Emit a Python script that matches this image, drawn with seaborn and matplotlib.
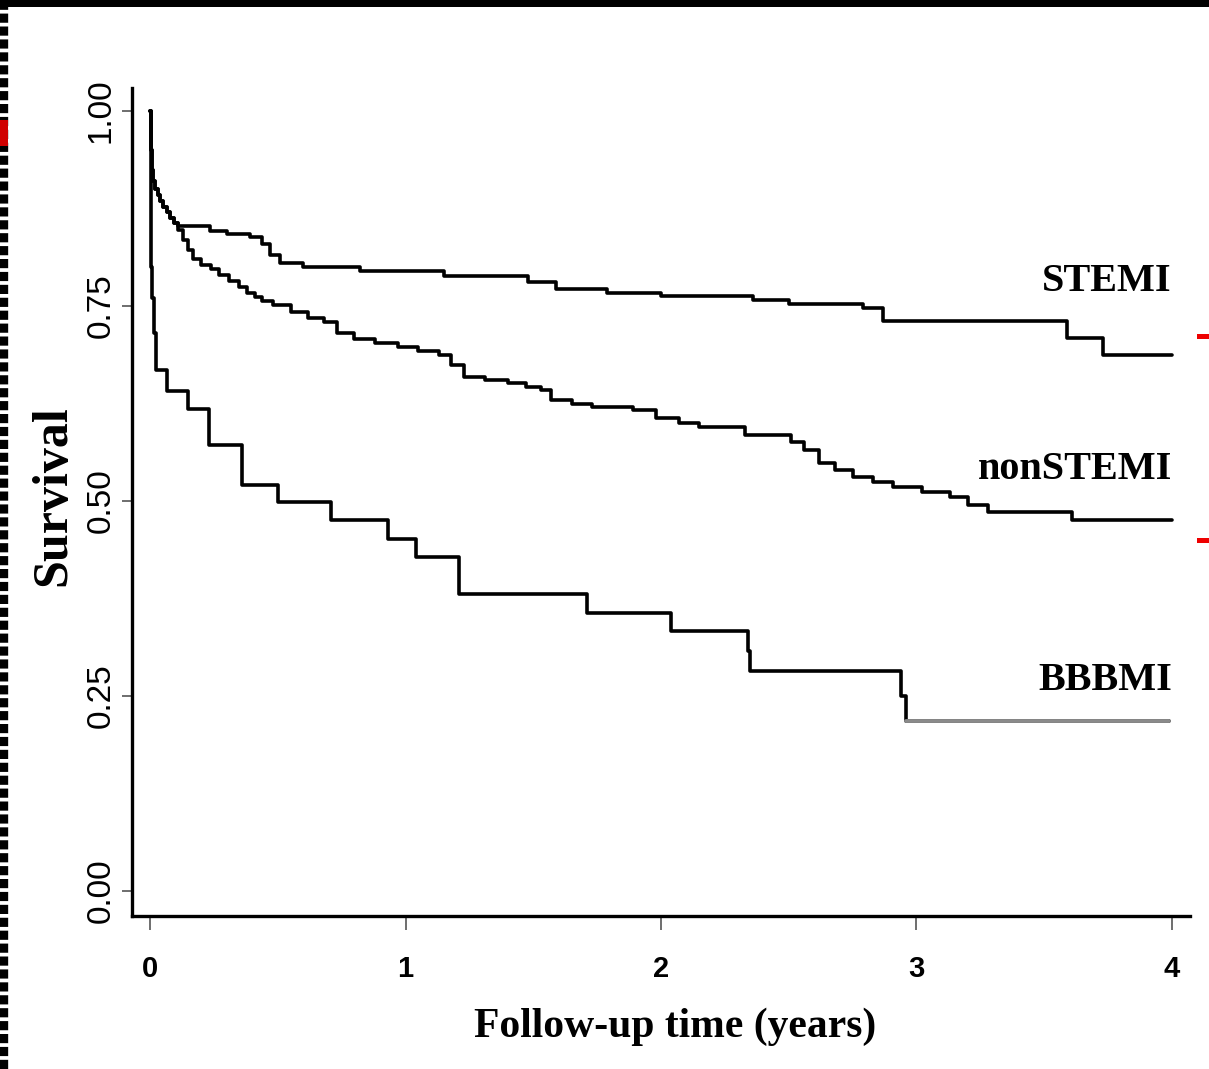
import matplotlib
matplotlib.use("Agg")
import matplotlib.pyplot as plt
import seaborn as sns
import pandas as pd
from matplotlib.lines import Line2D
from matplotlib.patches import Rectangle

# ---------------- data ----------------
stemi_t = [0, 0.002, 0.006, 0.012, 0.02, 0.03, 0.04, 0.05, 0.065, 0.08, 0.095, 0.11,
           0.235, 0.30, 0.39, 0.44, 0.47, 0.51, 0.60, 0.82, 1.15, 1.48, 1.59, 1.79,
           2.0, 2.36, 2.50, 2.79, 2.87, 3.59, 3.73, 4.0]
stemi_s = [1.0, 0.95, 0.925, 0.91, 0.90, 0.892, 0.885, 0.877, 0.87, 0.863, 0.857, 0.852,
           0.846, 0.842, 0.838, 0.83, 0.815, 0.805, 0.80, 0.795, 0.788, 0.781, 0.772, 0.767,
           0.763, 0.758, 0.753, 0.747, 0.731, 0.709, 0.687, 0.687]

nonstemi_t = [0, 0.002, 0.006, 0.012, 0.02, 0.03, 0.04, 0.05, 0.065, 0.08, 0.095, 0.11,
              0.13, 0.15, 0.17, 0.20, 0.24, 0.27, 0.31, 0.35, 0.38, 0.41, 0.44, 0.48,
              0.55, 0.62, 0.68, 0.73, 0.80, 0.88, 0.97, 1.05, 1.13, 1.18, 1.23, 1.31,
              1.40, 1.47, 1.53, 1.57, 1.65, 1.73, 1.89, 1.98, 2.07, 2.15, 2.33, 2.51,
              2.56, 2.62, 2.68, 2.75, 2.83, 2.91, 3.02, 3.13, 3.20, 3.28, 3.61, 4.0]
nonstemi_s = [1.0, 0.95, 0.925, 0.91, 0.90, 0.892, 0.885, 0.877, 0.87, 0.863, 0.857, 0.848,
              0.835, 0.822, 0.81, 0.803, 0.797, 0.79, 0.782, 0.775, 0.767, 0.761, 0.756, 0.751,
              0.742, 0.735, 0.729, 0.715, 0.708, 0.703, 0.697, 0.692, 0.687, 0.675, 0.659, 0.655,
              0.651, 0.646, 0.642, 0.629, 0.624, 0.62, 0.617, 0.606, 0.600, 0.595, 0.585, 0.576,
              0.565, 0.549, 0.54, 0.531, 0.524, 0.518, 0.512, 0.505, 0.495, 0.486, 0.476, 0.476]

bbbmi_t = [0, 0.002, 0.004, 0.008, 0.015, 0.025, 0.066, 0.15, 0.23, 0.36, 0.50, 0.71,
           0.93, 1.04, 1.21, 1.71, 2.04, 2.34, 2.35, 2.94, 2.96, 3.99]
bbbmi_s = [1.0, 0.86, 0.80, 0.76, 0.715, 0.668, 0.641, 0.618, 0.572, 0.521, 0.499, 0.476,
           0.451, 0.428, 0.381, 0.356, 0.333, 0.308, 0.282, 0.25, 0.218, 0.218]

group_names = ["STEMI", "nonSTEMI", "BBBMI"]
label_y = [0.781, 0.54, 0.27]

x_ticks = [0, 1, 2, 3, 4]
x_tick_labels = ["0", "1", "2", "3", "4"]
y_ticks = [0.00, 0.25, 0.50, 0.75, 1.00]
y_tick_labels = ["0.00", "0.25", "0.50", "0.75", "1.00"]

x_label = "Follow-up time (years)"
y_label = "Survival"

# ---------------- plot ----------------
sns.set_theme(style="white")
plt.rcParams["font.family"] = ["Liberation Serif", "DejaVu Serif"]
plt.rcParams["text.color"] = "black"
plt.rcParams["axes.labelcolor"] = "black"
plt.rcParams["xtick.labelcolor"] = "black"
plt.rcParams["ytick.labelcolor"] = "black"

W, H = 1209, 1069
fig = plt.figure(figsize=(W / 100, H / 100), dpi=100)
ax = fig.add_axes([132 / W, 1 - 916 / H, (1190 - 132) / W, (916 - 88) / H])

series = [(stemi_t, stemi_s), (nonstemi_t, nonstemi_s), (bbbmi_t, bbbmi_s)]
for (t, s), name in zip(series, group_names):
    df = pd.DataFrame({"time": t, "survival": s})
    sns.lineplot(data=df, x="time", y="survival", ax=ax, color="black",
                 linewidth=2.6, drawstyle="steps-post", estimator=None, sort=False)

# last BBBMI segment appears grey in the reference
df_tail = pd.DataFrame({"time": bbbmi_t[-2:], "survival": bbbmi_s[-2:]})
sns.lineplot(data=df_tail, x="time", y="survival", ax=ax, color="#8a8a8a",
             linewidth=2.8, drawstyle="steps-post", estimator=None, sort=False)

for name, yv in zip(group_names, label_y):
    ax.text(4.0, yv, name, ha="right", va="center", fontsize=29,
            fontweight="bold", family=["Liberation Serif"], color="black")

ax.set_xlim(-0.0705, 4.0705)
ax.set_ylim(-0.032, 1.0295)

ax.set_xticks(x_ticks)
ax.set_xticklabels(x_tick_labels, family=["Liberation Sans"], fontsize=21,
                   fontweight="bold", color="black")
ax.set_yticks(y_ticks)
ax.set_yticklabels(y_tick_labels, family=["Liberation Sans"], fontsize=24,
                   rotation=90, va="center", color="black")

ax.tick_params(axis="x", direction="out", length=10, width=1.2, color="#555555",
               pad=18, bottom=True)
ax.tick_params(axis="y", direction="out", length=7, width=1.2, color="#555555",
               pad=4, left=True)

ax.set_xlabel(x_label, fontsize=30, fontweight="bold", color="black",
              family=["Liberation Serif"], va="top")
ax.xaxis.set_label_coords((675 - 132) / 1058, (916 - 1008) / 828)
ax.set_ylabel(y_label, fontsize=36, fontweight="bold", color="black",
              family=["Liberation Serif"])
ax.yaxis.set_label_coords((76 - 132) / 1058, (916 - 496) / 828)

for side in ["top", "right"]:
    ax.spines[side].set_visible(False)
for side in ["left", "bottom"]:
    ax.spines[side].set_visible(True)
    ax.spines[side].set_color("black")
    ax.spines[side].set_linewidth(2.4)
ax.grid(False)

# slide decorations around the chart
fig.add_artist(Rectangle((0, 1 - 7 / H), 1, 7 / H, transform=fig.transFigure,
                         facecolor="black", edgecolor="none"))
fig.add_artist(Line2D([4 / W, 4 / W], [0, 1 - 7 / H], transform=fig.transFigure,
                      color="black", linewidth=6, dashes=(1.1, 0.45)))
fig.add_artist(Rectangle((0, 1 - 146 / H), 8 / W, 26 / H, transform=fig.transFigure,
                         facecolor="#d00000", edgecolor="none", zorder=5))
for yy in [336, 540]:
    fig.add_artist(Rectangle((1197 / W, 1 - (yy + 3) / H), 12 / W, 5 / H,
                             transform=fig.transFigure, facecolor="#ee0000",
                             edgecolor="none"))

fig.savefig("out.png", dpi=100, facecolor="white")
